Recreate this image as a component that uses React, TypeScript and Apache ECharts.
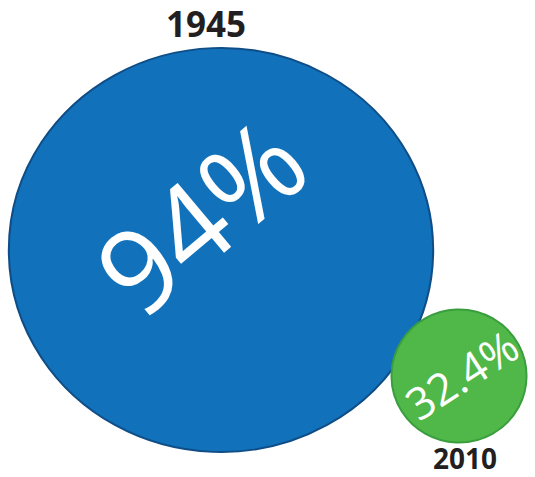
import React, { useEffect, useRef } from "react";
import * as echarts from "echarts";

// Data
const years = ["1945", "2010"];
const shares = [94, 32.4];

// Styles
const fills = ["#1172BB", "#50B848"];
const borders = ["#0F4D87", "#3A9E3F"];

const diameter = (v: number) => 134 * Math.pow(v / 32.4, 1.059);

export default function App() {
  const ref = useRef<HTMLDivElement>(null);
  useEffect(() => {
    if (!ref.current) return;
    const chart = echarts.init(ref.current, null, { renderer: "svg" });
    const bubbleData = shares.map((v, i) => {
      const d = diameter(v);
      const big = i === 0;
      return {
        value: v,
        symbolSize: [d * (big ? 1.025 : 1.008), d * (big ? 0.976 : 0.992)],
        itemStyle: { color: fills[i], borderColor: borders[i], borderWidth: 2, opacity: 1 },
        label: big
          ? { fontSize: 116, rotate: 40, offset: [6, -41] }
          : { fontSize: 44, rotate: 33, offset: [3, 0] },
      };
    });
    const yearData = shares.map((v, i) => {
      const d = diameter(v);
      const big = i === 0;
      return {
        value: v,
        symbolSize: [d, d],
        label: big
          ? { position: "top", fontSize: 35, distance: 2, offset: [-15, 0] }
          : { position: "bottom", fontSize: 28, distance: 1, offset: [6, 0] },
      };
    });
    chart.setOption({
      animation: false,
      grid: { left: 221, right: 76, top: 0, bottom: 34.7 },
      xAxis: { type: "category", data: years, show: false, boundaryGap: false },
      yAxis: { type: "value", min: 0, max: 216.2, show: false },
      series: [
        {
          type: "scatter",
          data: bubbleData,
          label: {
            show: true,
            position: "inside",
            formatter: "{c}%",
            color: "#ffffff",
            fontFamily: "Open Sans",
            fontWeight: "normal",
          },
          silent: true,
          z: 2,
        },
        {
          type: "scatter",
          data: yearData,
          itemStyle: { color: "rgba(0,0,0,0)", borderWidth: 0, opacity: 1 },
          label: {
            show: true,
            formatter: "{b}",
            color: "#231F20",
            fontFamily: "Open Sans",
            fontWeight: "bold",
          },
          silent: true,
          z: 3,
        },
      ],
    });
    return () => chart.dispose();
  }, []);
  return <div ref={ref} style={{ width: 535, height: 477, position: "absolute", left: 0, top: 0 }} />;
}
